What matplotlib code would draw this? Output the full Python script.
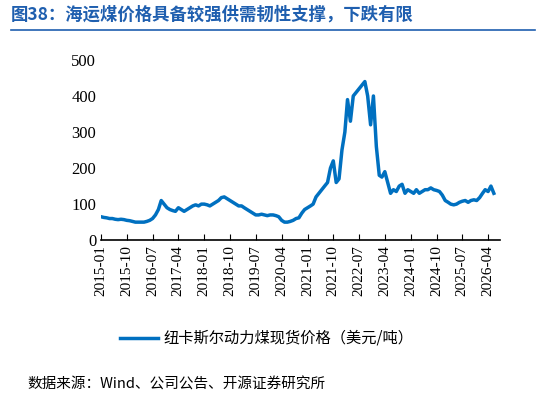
import matplotlib
matplotlib.use("Agg")
import matplotlib.pyplot as plt
import pandas as pd

dates = pd.date_range("2015-01-01", periods=138, freq="MS")
values = [65,63,62,60,60,58,57,58,57,55,54,52,
 50,50,50,50,52,55,60,70,85,110,100,90,
 85,82,80,90,85,80,85,90,95,98,95,100,
 100,98,95,100,105,110,118,120,115,110,105,100,
 95,95,90,85,80,75,70,70,72,70,68,70,
 70,68,65,55,50,50,52,55,60,62,75,85,
 90,95,100,120,130,140,150,160,200,220,160,170,
 250,300,390,330,400,410,420,430,440,400,320,400,
 260,180,175,190,160,130,140,135,150,155,130,140,
 135,130,140,130,135,140,140,145,140,138,135,125,
 110,105,100,98,100,105,108,110,105,110,112,110,
 118,130,140,135,150,130]
tick_labels = ["2015-01","2015-10","2016-07","2017-04","2018-01","2018-10","2019-07","2020-04",
 "2021-01","2021-10","2022-07","2023-04","2024-01","2024-10","2025-07","2026-04"]
series_name = "纽卡斯尔动力煤现货价格（美元/吨）"

cjk = ["Noto Sans CJK SC", "DejaVu Sans"]
serif = ["Liberation Serif"]
fig = plt.figure(figsize=(5.46, 4.05), dpi=100)
ax = fig.add_axes([0.185, 0.407, 0.73, 0.445])
ax.plot(dates, values, color="#0070C0", lw=2.5)
ax.set_ylim(0, 500)
ax.set_yticks(range(0, 501, 100))
ticks = pd.to_datetime(tick_labels)
ax.set_xticks(ticks)
ax.set_xticklabels(tick_labels, rotation=90, fontfamily=serif, fontsize=11)
ax.set_xlim(pd.Timestamp("2015-01-01"), pd.Timestamp("2026-08-01"))
for l in ax.get_yticklabels():
    l.set_fontfamily(serif); l.set_fontsize(12)
for s in ["top", "right", "left"]:
    ax.spines[s].set_visible(False)
ax.tick_params(axis="y", length=0)
ax.tick_params(axis="x", direction="in", length=4)
ax.spines["bottom"].set_linewidth(1.2)
fig.text(0.02, 0.965, "图38：海运煤价格具备较强供需韧性支撑，下跌有限", color="#1F5FAF",
         fontsize=12.5, fontweight="bold", fontfamily=cjk, va="center")
fig.add_artist(plt.Line2D([0.02, 0.98], [0.925, 0.925], color="#1F5FAF", lw=1.2))
fig.add_artist(plt.Line2D([0.22, 0.29], [0.165, 0.165], color="#0070C0", lw=2.5))
fig.text(0.30, 0.165, series_name, fontsize=11, fontfamily=cjk, va="center")
fig.text(0.05, 0.05, "数据来源：Wind、公司公告、开源证券研究所", fontsize=10.5, fontfamily=cjk, va="center")
fig.savefig("out.png", dpi=100)
